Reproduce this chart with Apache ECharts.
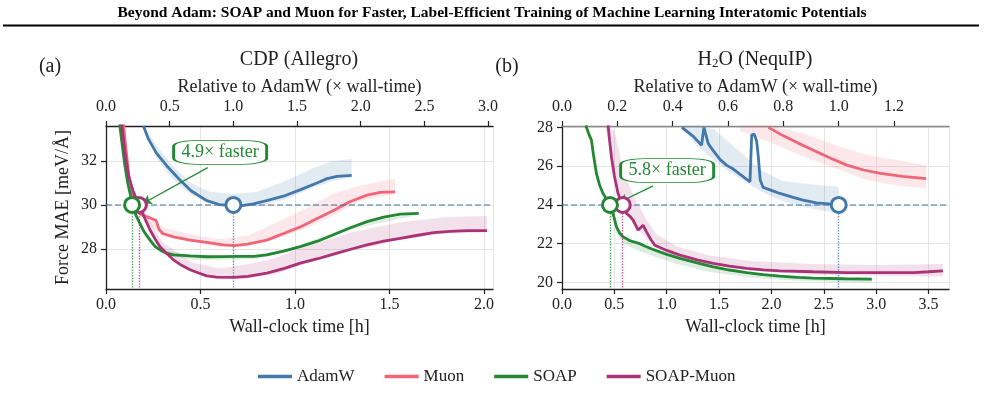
<!DOCTYPE html>
<html lang="en">
<head>
<meta charset="UTF-8">
<title>Beyond Adam: SOAP and Muon</title>
<script src="https://cdn.jsdelivr.net/npm/echarts@6/dist/echarts.min.js"></script>
<style>
    html, body { margin: 0; padding: 0; background: #fff; }
    #main { width: 985px; height: 408px; }
</style>
</head>
<body>
<div id="main"></div>
<script>
const FONT = 'Liberation Serif';
const TXT = '#222';
const COLORS = {'AdamW': '#4477AA', 'Muon': '#EE6677', 'SOAP': '#228833', 'SOAP-Muon': '#AA3377'};
const NAMES = ['AdamW', 'Muon', 'SOAP', 'SOAP-Muon'];

// ---- (a) CDP (Allegro): [wall-clock h, force MAE]
const cdpAdamW = [[0.198,33.6],[0.225,33.0],[0.268,32.35],[0.32,31.8],[0.39,31.15],[0.45,30.65],[0.533,30.2],[0.60,30.02],
    [0.674,29.97],[0.72,29.97],[0.78,30.05],[0.85,30.2],[0.939,30.4],[1.03,30.7],[1.116,31.0],[1.17,31.2],[1.222,31.3],[1.30,31.35]];
const cdpMuon = [[0.092,33.7],[0.105,32.6],[0.12,31.4],[0.14,30.5],[0.16,29.9],[0.18,29.6],[0.2,29.5],[0.23,29.42],[0.265,29.3],
    [0.28,28.9],[0.30,28.7],[0.357,28.55],[0.445,28.4],[0.533,28.3],[0.621,28.18],[0.68,28.15],[0.75,28.22],[0.851,28.4],[0.94,28.7],
    [1.028,29.0],[1.12,29.4],[1.204,29.75],[1.29,30.15],[1.381,30.45],[1.45,30.57],[1.53,30.6]];
const cdpSoap = [[0.072,33.7],[0.085,32.8],[0.1,31.8],[0.115,31.0],[0.128,30.5],[0.14,30.0],[0.16,29.5],[0.18,29.15],[0.2,28.8],
    [0.233,28.4],[0.26,28.1],[0.286,27.95],[0.32,27.8],[0.357,27.73],[0.445,27.68],[0.533,27.64],[0.621,27.65],[0.7,27.66],[0.78,27.66],
    [0.851,27.73],[0.94,27.9],[1.028,28.1],[1.12,28.35],[1.204,28.64],[1.29,28.95],[1.381,29.24],[1.47,29.45],[1.557,29.58],[1.655,29.62]];
const cdpSoapMuon = [[0.083,33.7],[0.1,32.4],[0.12,31.3],[0.145,30.6],[0.176,30.0],[0.2,29.5],[0.233,28.86],[0.26,28.45],[0.286,28.1],
    [0.32,27.8],[0.357,27.5],[0.4,27.25],[0.445,27.05],[0.49,26.9],[0.533,26.77],[0.586,26.71],[0.674,26.7],[0.75,26.75],[0.851,26.89],
    [0.94,27.1],[1.028,27.35],[1.12,27.55],[1.204,27.76],[1.29,27.97],[1.381,28.18],[1.47,28.35],[1.557,28.48],[1.65,28.62],[1.734,28.74],
    [1.82,28.8],[1.91,28.83],[2.016,28.83]];
// spread bands: [h, low, high]
const cdpBandAdamW = [[0.2,33.4,33.8],[0.27,32.1,32.7],[0.35,31.2,31.8],[0.45,30.45,31.0],[0.55,30.05,30.6],[0.67,29.9,30.5],
    [0.8,29.95,30.6],[0.95,30.25,31.1],[1.1,30.8,31.7],[1.2,31.1,32.0],[1.3,31.25,32.1]];
const cdpBandMuon = [[0.2,29.3,29.7],[0.3,28.6,29.0],[0.45,28.3,28.65],[0.6,28.1,28.45],[0.75,28.15,28.6],[0.9,28.45,29.2],
    [1.05,28.9,29.8],[1.2,29.5,30.5],[1.35,30.2,30.9],[1.53,30.5,31.2]];
const cdpBandSoap = [[0.2,28.6,28.85],[0.3,27.75,27.95],[0.45,27.5,27.72],[0.6,27.5,27.7],[0.8,27.55,27.72],[1.0,27.95,28.1],
    [1.3,28.9,29.05],[1.655,29.55,29.68]];
const cdpBandSoapMuon = [[0.2,29.3,29.7],[0.3,27.9,28.3],[0.45,26.95,27.4],[0.6,26.6,27.1],[0.75,26.65,27.3],[0.9,26.85,27.6],
    [1.05,27.3,28.1],[1.3,27.9,28.75],[1.55,28.4,29.2],[1.8,28.7,29.45],[2.016,28.75,29.5]];
const cdpTarget = 30;
const cdpHits = {'SOAP': 0.138, 'SOAP-Muon': 0.174, 'AdamW': 0.674};
const cdpNote = {text: '4.9× faster', box: [0.604, 32.4], from: [0.538, 31.7], to: [0.198, 30.08]};

// ---- (b) H2O (NequIP)
const h2oAdamW = [[1.145,28.0],[1.25,27.55],[1.333,27.08],[1.355,28.0],[1.375,27.6],[1.396,27.16],[1.444,26.8],[1.508,26.35],
    [1.57,26.05],[1.635,25.85],[1.72,25.5],[1.795,25.19],[1.811,27.6],[1.835,27.65],[1.858,27.3],[1.874,26.5],[1.892,25.3],[1.92,24.9],
    [2.0,24.75],[2.08,24.59],[2.2,24.4],[2.3,24.25],[2.43,24.1],[2.55,24.05],[2.642,24.02]];
const h2oMuon = [[1.97,28.0],[2.1,27.6],[2.25,27.2],[2.4,26.82],[2.56,26.42],[2.72,26.05],[2.88,25.8],[3.04,25.62],[3.25,25.47],[3.477,25.36]];
const h2oSoap = [[0.227,28.1],[0.26,27.6],[0.281,27.34],[0.3,26.6],[0.329,25.62],[0.36,25.0],[0.392,24.59],[0.43,24.25],[0.466,24.0],
    [0.49,23.5],[0.52,22.87],[0.55,22.55],[0.583,22.35],[0.65,22.15],[0.743,22.0],[0.8,21.85],[0.87,21.7],[1.0,21.45],[1.125,21.24],
    [1.3,21.0],[1.444,20.8],[1.6,20.64],[1.763,20.51],[1.92,20.4],[2.08,20.32],[2.25,20.26],[2.4,20.22],[2.7,20.19],[2.958,20.17]];
const h2oSoapMuon = [[0.44,28.1],[0.455,27.3],[0.472,26.47],[0.5,25.5],[0.535,24.59],[0.577,24.0],[0.615,23.56],[0.65,23.4],[0.679,23.21],
    [0.727,22.7],[0.774,22.95],[0.807,22.61],[0.85,22.2],[0.886,21.92],[1.0,21.65],[1.125,21.41],[1.3,21.15],[1.444,20.98],[1.6,20.84],
    [1.763,20.72],[1.92,20.65],[2.08,20.6],[2.4,20.55],[2.72,20.51],[3.04,20.5],[3.356,20.51],[3.5,20.55],[3.637,20.6]];
const h2oBandAdamW = [[1.15,27.9,28.3],[1.3,27.0,28.3],[1.45,26.3,27.9],[1.6,25.7,27.2],[1.75,25.2,26.5],[1.9,24.7,25.8],
    [2.1,24.2,25.25],[2.3,23.9,25.1],[2.5,23.7,25.0],[2.642,23.56,24.93]];
const h2oBandMuon = [[1.7,27.8,28.3],[2.0,27.2,28.3],[2.3,26.5,27.7],[2.6,25.9,27.1],[2.9,25.3,26.6],[3.2,25.0,26.3],[3.477,24.85,26.05]];
const h2oBandSoap = [[0.47,23.9,24.1],[0.52,22.5,22.9],[0.6,21.95,22.4],[0.75,21.6,22.0],[0.9,21.3,21.72],[1.1,20.95,21.3],
    [1.4,20.55,20.85],[1.8,20.25,20.52],[2.2,20.1,20.3],[2.6,20.02,20.22],[2.958,20.0,20.2]];
const h2oBandSoapMuon = [[0.42,27.9,28.3],[0.5,25.5,27.8],[0.6,23.6,25.5],[0.7,22.9,24.3],[0.8,22.3,23.3],[0.9,21.8,22.5],
    [1.1,21.3,21.85],[1.4,20.9,21.4],[1.8,20.6,21.1],[2.4,20.4,20.95],[3.0,20.35,20.9],[3.637,20.3,20.95]];
const h2oTarget = 24;
const h2oHits = {'SOAP': 0.458, 'SOAP-Muon': 0.58, 'AdamW': 2.642};
const h2oNote = {text: '5.8× faster', box: [1.004, 25.77], from: [0.87, 24.98], to: [0.552, 24.15]};

const panels = [
    {lines: {'AdamW': cdpAdamW, 'Muon': cdpMuon, 'SOAP': cdpSoap, 'SOAP-Muon': cdpSoapMuon},
     bands: {'AdamW': cdpBandAdamW, 'Muon': cdpBandMuon, 'SOAP': cdpBandSoap, 'SOAP-Muon': cdpBandSoapMuon},
     target: cdpTarget, hits: cdpHits, note: cdpNote, xMax: 2.048, yMin: 26.17, yMax: 33.6, relStep: 0.5, topColor: '#222'},
    {lines: {'AdamW': h2oAdamW, 'Muon': h2oMuon, 'SOAP': h2oSoap, 'SOAP-Muon': h2oSoapMuon},
     bands: {'AdamW': h2oBandAdamW, 'Muon': h2oBandMuon, 'SOAP': h2oBandSoap, 'SOAP-Muon': h2oBandSoapMuon},
     target: h2oTarget, hits: h2oHits, note: h2oNote, xMax: 3.695, yMin: 19.66, yMax: 28.07, relStep: 0.2, topColor: '#888'}
];

// shaded spread: one polygon (upper edge, then lower edge back), kept inside the plot box
function bandRenderer(band) {
    return function (params, api) {
        if (params.dataIndex !== 0) return null;
        const cs = params.coordSys;
        const clampY = y => Math.min(Math.max(y, cs.y), cs.y + cs.height);
        const up = band.map(d => api.coord([d[0], d[2]]));
        const lo = band.map(d => api.coord([d[0], d[1]])).reverse();
        const pts = up.concat(lo).map(p => [p[0], clampY(p[1])]);
        return {type: 'polygon', shape: {points: pts}, style: {fill: api.visual('color'), opacity: 0.15}, silent: true};
    };
}

function buildSeries(p, xi, yi) {
    const out = [];
    NAMES.forEach(function (n) {
        out.push({type: 'custom', name: n + ' spread', xAxisIndex: xi, yAxisIndex: yi, silent: true, z: 1,
            itemStyle: {color: COLORS[n]}, renderItem: bandRenderer(p.bands[n]),
            data: p.bands[n].map(d => [d[0], d[1], d[2]]), encode: {x: 0, y: [1, 2]}});
    });
    NAMES.forEach(function (n) {
        const ml = [];
        if (p.hits[n] != null) {
            ml.push([{coord: [p.hits[n], p.target], lineStyle: {color: COLORS[n], type: 'dotted', width: 1.4, opacity: 0.8}},
                     {coord: [p.hits[n], p.yMin]}]);
        }
        if (n === 'AdamW') {
            ml.push({yAxis: p.target, lineStyle: {color: COLORS[n], type: [6, 3], width: 1.6, opacity: 0.7}});
        }
        const s = {type: 'line', name: n, xAxisIndex: xi, yAxisIndex: yi, data: p.lines[n], symbol: 'none',
            lineStyle: {color: COLORS[n], width: 2.8}, itemStyle: {color: COLORS[n]}, z: 3};
        if (n === 'SOAP') {
            ml.push([{coord: p.note.from, symbol: 'none', lineStyle: {color: COLORS[n], width: 1.3, type: 'solid', curveness: 0.18, opacity: 1}},
                     {coord: p.note.to, symbol: 'arrow', symbolSize: 8}]);
            s.markPoint = {silent: true, animation: false, symbol: 'roundRect', symbolSize: [93, 24],
                itemStyle: {color: '#fff', borderColor: COLORS[n], borderWidth: 1.5},
                label: {show: true, position: 'inside', formatter: p.note.text, color: COLORS[n], fontFamily: FONT, fontSize: 18},
                data: [{coord: p.note.box}]};
        }
        s.markLine = {silent: true, animation: false, symbol: ['none', 'none'], label: {show: false}, data: ml};
        out.push(s);
    });
    out.push({type: 'scatter', name: 'hits', xAxisIndex: xi, yAxisIndex: yi, silent: true, symbolSize: 15, z: 6,
        itemStyle: {color: '#fff', borderWidth: 3, opacity: 1},
        data: ['SOAP-Muon', 'SOAP', 'AdamW'].map(n => ({value: [p.hits[n], p.target], itemStyle: {borderColor: COLORS[n]}}))});
    return out;
}

const axisLine = {show: true, onZero: false, lineStyle: {color: '#222', width: 1.3}};
const axisTick = {show: true, inside: false, length: 5, lineStyle: {color: '#222', width: 1.2}};
const fmt1 = v => v.toFixed(1);
const grids = [
    {left: 106, top: 126, width: 387, height: 163},
    {left: 562, top: 126, width: 387, height: 163}
];
const xAxes = [], yAxes = [];
panels.forEach(function (p, i) {
    xAxes.push({type: 'value', gridIndex: i, position: 'bottom', min: 0, max: p.xMax, interval: 0.5,
        axisLine: axisLine, axisTick: axisTick,
        axisLabel: {formatter: fmt1, showMaxLabel: false, fontFamily: FONT, fontSize: 16, color: TXT, margin: 8},
        splitLine: {show: true, lineStyle: {color: '#e4e4e4', width: 1}},
        name: 'Wall-clock time [h]', nameLocation: 'middle', nameGap: 29,
        nameTextStyle: {fontFamily: FONT, fontSize: 18, color: TXT}});
    xAxes.push({type: 'value', gridIndex: i, position: 'top', min: 0, max: p.xMax / p.hits['AdamW'], interval: p.relStep,
        axisLine: {show: true, onZero: false, lineStyle: {color: p.topColor, width: 1.3}}, axisTick: axisTick,
        axisLabel: {formatter: fmt1, showMaxLabel: false, fontFamily: FONT, fontSize: 16, color: TXT, margin: 11},
        splitLine: {show: false},
        name: 'Relative to AdamW (× wall-time)', nameLocation: 'middle', nameGap: 30,
        nameTextStyle: {fontFamily: FONT, fontSize: 18, color: TXT}});
    yAxes.push({type: 'value', gridIndex: i, min: p.yMin, max: p.yMax, splitNumber: 4,
        axisLine: axisLine, axisTick: axisTick,
        axisLabel: {showMinLabel: false, showMaxLabel: false, fontFamily: FONT, fontSize: 16, color: TXT, margin: 9},
        splitLine: {show: true, lineStyle: {color: '#e4e4e4', width: 1}},
        name: i === 0 ? 'Force MAE [meV/Å]' : '', nameLocation: 'middle', nameGap: 34,
        nameTextStyle: {fontFamily: FONT, fontSize: 18, color: TXT}});
});

let series = [];
panels.forEach(function (p, i) {
    series = series.concat(buildSeries(p, i * 2, i));
});

const chart = echarts.init(document.getElementById('main'), null, {renderer: 'canvas'});
chart.setOption({
    animation: false,
    grid: grids,
    xAxis: xAxes,
    yAxis: yAxes,
    legend: {data: NAMES, top: 363, left: 253, icon: 'rect', itemWidth: 34, itemHeight: 3.5, itemGap: 30,
        textStyle: {fontFamily: FONT, fontSize: 17, color: TXT}},
    graphic: [
        {type: 'text', x: 492, y: 13, style: {text: 'Beyond Adam: SOAP and Muon for Faster, Label-Efficient Training of Machine Learning Interatomic Potentials',
            font: 'bold 15.5px "Liberation Serif"', fill: '#000', textAlign: 'center', textVerticalAlign: 'middle'}},
        {type: 'line', shape: {x1: 3, y1: 25.5, x2: 979, y2: 25.5}, style: {stroke: '#000', lineWidth: 2}},
        {type: 'text', x: 50, y: 67, style: {text: '(a)', font: '20px "Liberation Serif"', fill: TXT, textAlign: 'center', textVerticalAlign: 'middle'}},
        {type: 'text', x: 507, y: 67, style: {text: '(b)', font: '20px "Liberation Serif"', fill: TXT, textAlign: 'center', textVerticalAlign: 'middle'}},
        {type: 'text', x: 299, y: 60, style: {text: 'CDP (Allegro)', font: '20px "Liberation Serif"', fill: TXT, textAlign: 'center', textVerticalAlign: 'middle'}},
        {type: 'text', x: 755, y: 60, style: {text: '{a|H}{s|2}{a|O (NequIP)}', fill: TXT, textAlign: 'center', textVerticalAlign: 'middle',
            rich: {a: {fontFamily: FONT, fontSize: 20, color: TXT, verticalAlign: 'bottom'},
                   s: {fontFamily: FONT, fontSize: 13, color: TXT, padding: [6, 0, 0, 0], verticalAlign: 'bottom'}}}}
    ],
    series: series
});
</script>
</body>
</html>
